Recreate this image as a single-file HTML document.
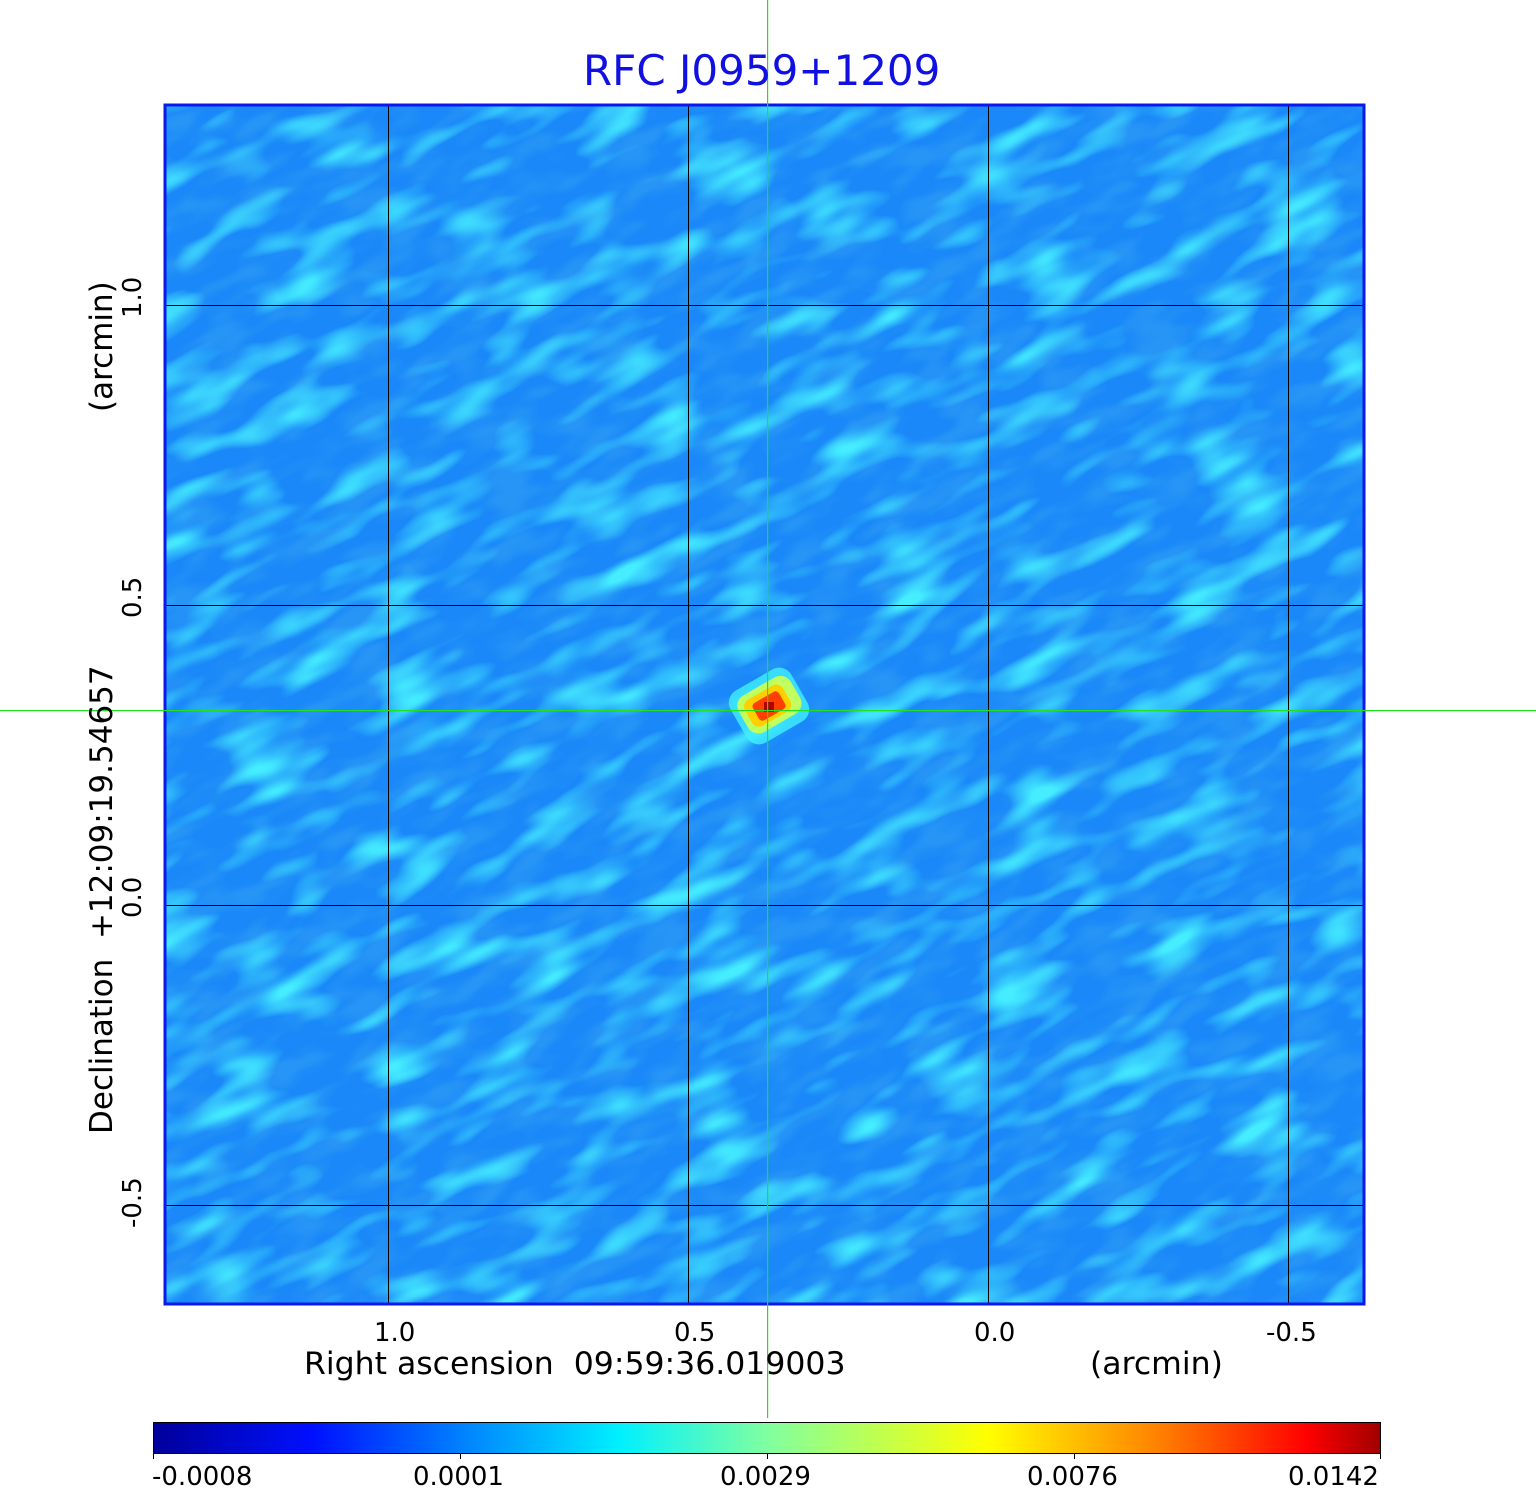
<!DOCTYPE html>
<html><head><meta charset="utf-8"><style>
html,body{margin:0;padding:0;background:#fff;}
body{width:1536px;height:1511px;position:relative;overflow:hidden;font-family:"Liberation Sans","DejaVu Sans",sans-serif;}
.t{position:absolute;white-space:nowrap;color:#000;font-size:26px;font-family:"DejaVu Sans","Liberation Sans",sans-serif;}
.r{position:absolute;white-space:nowrap;color:#000;font-size:26px;font-family:"DejaVu Sans","Liberation Sans",sans-serif;transform:rotate(-90deg);transform-origin:0 0;}
</style></head><body>
<svg width="1536" height="1511" style="position:absolute;left:0;top:0">
<defs>
<filter id="n1" x="0" y="0" width="100%" height="100%">
<feTurbulence type="fractalNoise" baseFrequency="0.012 0.035" numOctaves="2" seed="4"/>
<feColorMatrix type="matrix" values="0 0 0 0 0.06  0 0 0 0 0.85  0 0 0 0 1  3 0 0 0 -1.45"/>
</filter>
<filter id="n2" x="0" y="0" width="100%" height="100%">
<feTurbulence type="fractalNoise" baseFrequency="0.02 0.045" numOctaves="2" seed="11"/>
<feColorMatrix type="matrix" values="0 0 0 0 0.02  0 0 0 0 0.3  0 0 0 0 0.92  -3.2 0 0 0 1.85"/>
</filter>
<linearGradient id="cb" x1="0" x2="1">
<stop offset="0" stop-color="#00009a"/>
<stop offset="0.13" stop-color="#0010ff"/>
<stop offset="0.25" stop-color="#0080ff"/>
<stop offset="0.38" stop-color="#00f0ff"/>
<stop offset="0.5" stop-color="#80ffa0"/>
<stop offset="0.68" stop-color="#ffff00"/>
<stop offset="0.82" stop-color="#ff8000"/>
<stop offset="0.94" stop-color="#ff0000"/>
<stop offset="1" stop-color="#a00000"/>
</linearGradient>
<clipPath id="c"><rect x="164" y="104" width="1201" height="1201"/></clipPath>
</defs>
<rect x="164" y="104" width="1201" height="1201" fill="#1a88f8"/>
<g clip-path="url(#c)">
<rect x="-300" y="-300" width="2200" height="2200" filter="url(#n2)" transform="rotate(-25 765 705)"/>
<rect x="-300" y="-300" width="2200" height="2200" filter="url(#n1)" transform="rotate(-25 765 705)"/>
</g>
<g>
<rect x="734" y="676" width="70" height="60" fill="#40f0ff" opacity="0.8" rx="14" transform="rotate(-30 769 706)"/>
<rect x="740" y="684" width="60" height="42" fill="#c0ff60" rx="12" transform="rotate(-30 769 706)"/>
<rect x="746" y="690" width="44" height="30" fill="#ffd000" rx="8" transform="rotate(-30 769 706)"/>
<rect x="754" y="696" width="30" height="20" fill="#ff4000" rx="4" transform="rotate(-30 769 706)"/>
<rect x="764" y="702" width="10" height="10" fill="#b00000"/>
</g>
<g stroke="#000" stroke-width="1">
<line x1="388.5" y1="104" x2="388.5" y2="1305"/>
<line x1="688.5" y1="104" x2="688.5" y2="1305"/>
<line x1="988.5" y1="104" x2="988.5" y2="1305"/>
<line x1="1288.5" y1="104" x2="1288.5" y2="1305"/>
<line x1="164" y1="305.5" x2="1365" y2="305.5"/>
<line x1="164" y1="605.5" x2="1365" y2="605.5"/>
<line x1="164" y1="905.5" x2="1365" y2="905.5"/>
<line x1="164" y1="1205.5" x2="1365" y2="1205.5"/>
</g>
<rect x="165" y="105" width="1199" height="1199" fill="none" stroke="#0a18ee" stroke-width="3"/>
<rect x="153.5" y="1422.5" width="1227" height="31" fill="url(#cb)" stroke="#000" stroke-width="1"/>
<g stroke="#000"><line x1="460.5" y1="1453" x2="460.5" y2="1459"/><line x1="767.5" y1="1453" x2="767.5" y2="1459"/><line x1="1074.5" y1="1453" x2="1074.5" y2="1459"/><line x1="153.5" y1="1453" x2="153.5" y2="1459"/><line x1="1380.5" y1="1453" x2="1380.5" y2="1459"/></g>
<rect x="767" y="0" width="1.2" height="1418" fill="#20e020"/>
<rect x="0" y="710" width="1536" height="1.2" fill="#20e020"/>
</svg>
<div class="t" style="left:583px;top:46px;font-size:42px;color:#1010e0;">RFC J0959+1209</div>
<div class="t" style="left:374px;top:1318px;">1.0</div>
<div class="t" style="left:674px;top:1318px;">0.5</div>
<div class="t" style="left:974px;top:1318px;">0.0</div>
<div class="t" style="left:1266px;top:1318px;">-0.5</div>
<div class="t" style="left:304px;top:1346px;font-size:31.5px;">Right ascension&nbsp; 09:59:36.019003</div>
<div class="t" style="left:1090px;top:1346px;font-size:31.5px;">(arcmin)</div>
<div class="t" style="left:152px;top:1462px;">-0.0008</div>
<div class="t" style="left:413px;top:1462px;">0.0001</div>
<div class="t" style="left:720px;top:1462px;">0.0029</div>
<div class="t" style="left:1027px;top:1462px;">0.0076</div>
<div class="t" style="left:1288px;top:1462px;">0.0142</div>
<div class="r" style="left:118px;top:318px;">1.0</div>
<div class="r" style="left:118px;top:618px;">0.5</div>
<div class="r" style="left:118px;top:918px;">0.0</div>
<div class="r" style="left:118px;top:1228px;">-0.5</div>
<div class="r" style="left:84px;top:1134px;font-size:31px;">Declination&nbsp; +12:09:19.54657</div>
<div class="r" style="left:84px;top:412px;font-size:31px;">(arcmin)</div>
</body></html>
